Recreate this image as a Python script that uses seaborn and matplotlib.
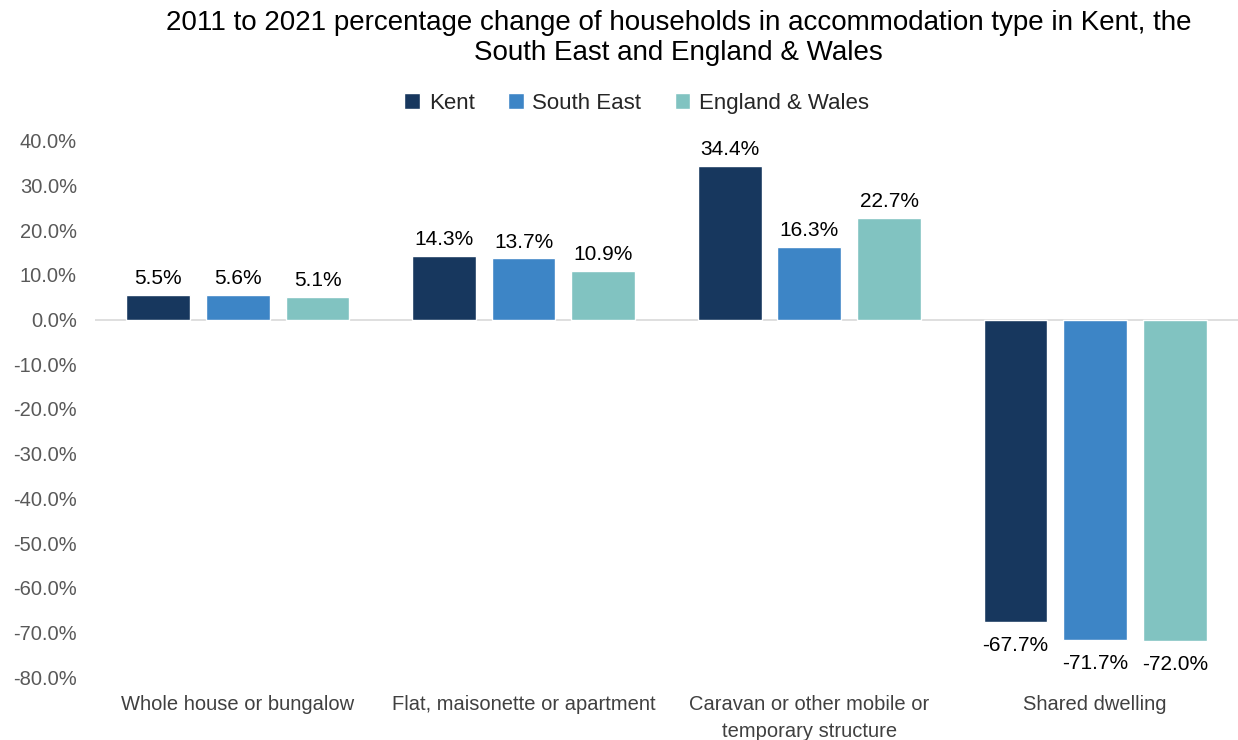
import seaborn as sns
import matplotlib.pyplot as plt
import pandas as pd

# Data
categories = [
    "Whole house or bungalow",
    "Flat, maisonette or apartment",
    "Caravan or other mobile or\ntemporary structure",
    "Shared dwelling",
]
areas = ["Kent", "South East", "England & Wales"]
kent = [5.5, 14.3, 34.4, -67.7]
south_east = [5.6, 13.7, 16.3, -71.7]
england_wales = [5.1, 10.9, 22.7, -72.0]

colors = ["#17375E", "#3D85C6", "#81C3C1"]

df = pd.DataFrame({
    "category": categories * 3,
    "area": [a for a in areas for _ in categories],
    "value": kent + south_east + england_wales,
})

sns.set_style("white")
plt.rcParams["font.family"] = ["Liberation Sans", "DejaVu Sans"]

fig = plt.figure(figsize=(12.38, 7.40), dpi=100)
ax = fig.add_axes([0.0767, 0.0851, 0.9233, 0.7244])

sns.barplot(data=df, x="category", y="value", hue="area", order=categories,
            hue_order=areas, palette=colors, width=0.837, gap=0.2,
            saturation=1, ax=ax, legend=True)

ax.set_ylim(-80, 40)
ax.set_yticks(range(-80, 41, 10))
ax.set_yticklabels([f"{v:.1f}%" for v in range(-80, 41, 10)])
ax.set_xlim(-0.5, 3.5)
ax.set_xlabel("")
ax.set_ylabel("")
ax.tick_params(axis="y", labelsize=14.5, colors="#595959", length=0, pad=13)
ax.tick_params(axis="x", labelsize=14.5, colors="#404040", length=0, pad=13)
for lbl in ax.get_xticklabels():
    lbl.set_linespacing(1.5)
for s in ax.spines.values():
    s.set_visible(False)
ax.axhline(0, color="#D9D9D9", lw=1.2, zorder=0)

# value labels: a bit more room below negative bars
for cont in ax.containers:
    vals = cont.datavalues
    pos = [f"{v:.1f}%" if v >= 0 else "" for v in vals]
    neg = [f"{v:.1f}%" if v < 0 else "" for v in vals]
    ax.bar_label(cont, labels=pos, padding=5, fontsize=15, color="black")
    ax.bar_label(cont, labels=neg, padding=10, fontsize=15, color="black")

ax.legend(loc="upper center", bbox_to_anchor=(0.474, 1.127), ncol=3, frameon=False,
          fontsize=16, handlelength=0.7, handleheight=0.7, handletextpad=0.4,
          columnspacing=1.5, labelcolor="#262626")

fig.text(0.548, 0.948,
         "2011 to 2021 percentage change of households in accommodation type in Kent, the\n"
         "South East and England & Wales",
         ha="center", va="center", fontsize=20, color="black", linespacing=1.2)

fig.savefig("out.png", dpi=100)
plt.close(fig)
